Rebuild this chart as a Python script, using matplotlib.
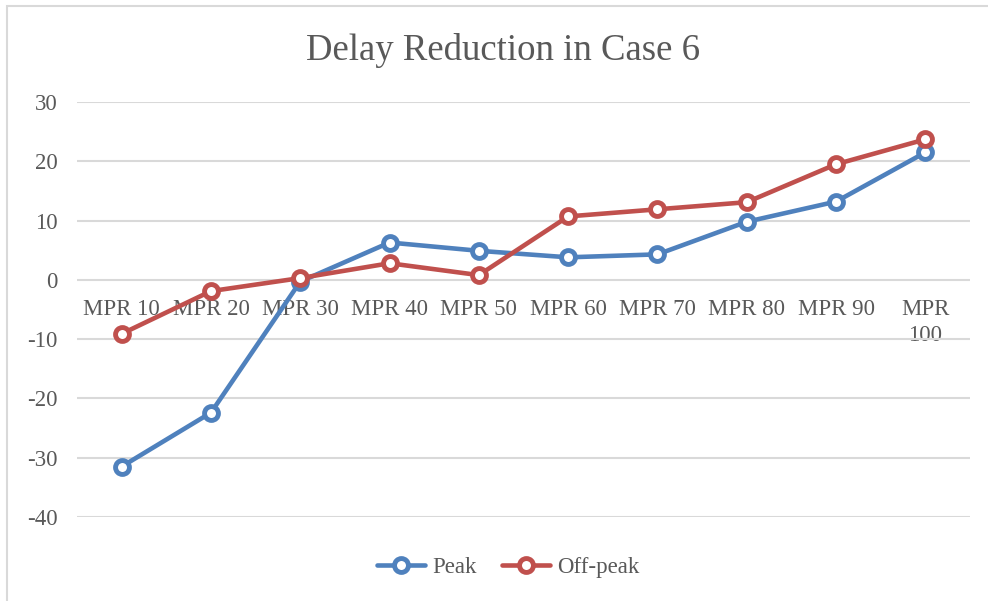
import matplotlib.pyplot as plt
from matplotlib.patches import Rectangle

categories = ['MPR 10', 'MPR 20', 'MPR 30', 'MPR 40', 'MPR 50',
              'MPR 60', 'MPR 70', 'MPR 80', 'MPR 90', 'MPR\n100']
peak = [-31.5, -22.4, -0.3, 6.3, 4.9, 3.8, 4.3, 9.8, 13.2, 21.5]
off_peak = [-9.1, -1.9, 0.3, 2.8, 0.8, 10.7, 11.9, 13.1, 19.5, 23.7]
yticks = [-40, -30, -20, -10, 0, 10, 20, 30]

text_color = '#595959'
plt.rcParams['font.family'] = ['Liberation Serif', 'DejaVu Serif']

fig = plt.figure(figsize=(9.88, 6.01), dpi=100)
ax = fig.add_axes([77 / 988, 1 - 517 / 601, (970 - 77) / 988, (517 - 102) / 601])

# chart border, only the top and left edges fall inside the image
fig.patches.append(Rectangle((7 / 988, -0.05), 1.1, 1 - 6 / 601 + 0.05,
                             transform=fig.transFigure, fill=False,
                             edgecolor='#d9d9d9', linewidth=1.5))

x = list(range(len(categories)))
style = dict(linewidth=3.3, marker='o', markersize=10, markeredgewidth=3.5,
             markerfacecolor='white', solid_capstyle='round')
ax.plot(x, peak, color='#4f81bd', label='Peak', **style)
ax.plot(x, off_peak, color='#c0504d', label='Off-peak', **style)

ax.set_xlim(-0.5, len(categories) - 0.5)
ax.set_ylim(-40, 30)
ax.set_yticks(yticks)
ax.set_yticklabels([str(v) for v in yticks])
ax.grid(axis='y', color='#d9d9d9', linewidth=1.5)
ax.set_axisbelow(True)

for s in ['top', 'right', 'left']:
    ax.spines[s].set_visible(False)
# category labels sit just under the zero line
ax.spines['bottom'].set_position(('data', 0))
ax.spines['bottom'].set_visible(False)
ax.set_xticks(x)
ax.set_xticklabels(categories, linespacing=1.3)
ax.tick_params(axis='x', length=0, pad=14, labelsize=16.5, labelcolor=text_color)
ax.tick_params(axis='y', length=0, pad=14, labelsize=16.5, labelcolor=text_color)

fig.text(503 / 988, 1 - 51 / 601, 'Delay Reduction in Case 6', ha='center', va='center',
         fontsize=26.5, color=text_color)

fig.legend(loc='center', bbox_to_anchor=(508 / 988, 1 - 567 / 601), ncol=2, frameon=False,
           fontsize=16.5, labelcolor=text_color, handlelength=2.1, handletextpad=0.3,
           columnspacing=1.1)

fig.savefig('out.png', dpi=100)
